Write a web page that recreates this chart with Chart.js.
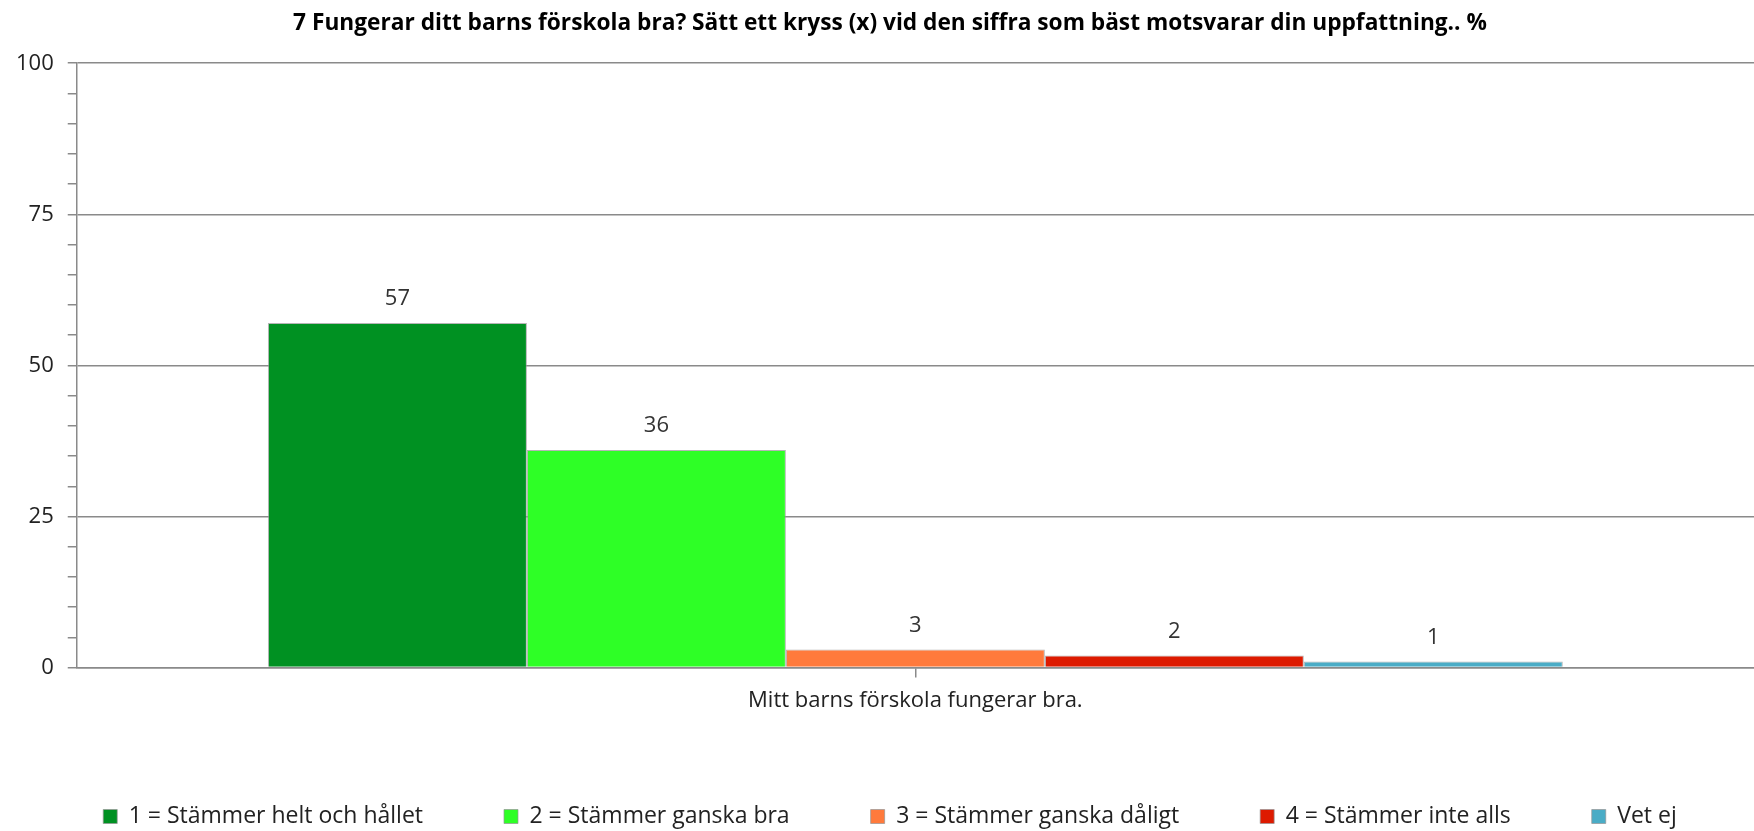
<!DOCTYPE html>
<html>
<head>
<meta charset="utf-8">
<script src="https://cdn.jsdelivr.net/npm/chart.js@4.4.1/dist/chart.umd.min.js"></script>
<style>
  html, body { margin: 0; padding: 0; background: #fff; }
  #wrap { width: 1754px; height: 831px; }
</style>
</head>
<body>
<div id="wrap"><canvas id="chart"></canvas></div>
<script>
var title = '7 Fungerar ditt barns förskola bra? Sätt ett kryss (x) vid den siffra som bäst motsvarar din uppfattning.. %';
var categories = ['Mitt barns förskola fungerar bra.'];
var seriesNames = ['1 = Stämmer helt och hållet', '2 = Stämmer ganska bra', '3 = Stämmer ganska dåligt', '4 = Stämmer inte alls', 'Vet ej'];
var seriesValues = [57, 36, 3, 2, 1];
var seriesColors = ['#009122', '#2eff26', '#ff7a3c', '#dd1a00', '#4aacc6'];

// value labels above each bar
var barLabels = {
  id: 'barLabels',
  afterDatasetsDraw: function(chart) {
    var ctx = chart.ctx;
    ctx.save();
    ctx.font = '22px "Open Sans"';
    ctx.fillStyle = '#333';
    ctx.textAlign = 'center';
    ctx.textBaseline = 'middle';
    chart.data.datasets.forEach(function(ds, i) {
      chart.getDatasetMeta(i).data.forEach(function(bar, j) {
        ctx.fillText(ds.data[j], bar.x, bar.y - 24);
      });
    });
    ctx.restore();
  }
};

var datasets = seriesNames.map(function(name, i) {
  return {
    label: name,
    data: [seriesValues[i]],
    backgroundColor: seriesColors[i],
    borderColor: 'rgba(150,150,150,0.7)',
    borderWidth: 1,
    barPercentage: 1,
    categoryPercentage: 0.772
  };
});

var chart = new Chart(document.getElementById('chart').getContext('2d'), {
  type: 'bar',
  data: { labels: categories, datasets: datasets },
  plugins: [barLabels],
  options: {
    responsive: true,
    maintainAspectRatio: false,
    animation: false,
    layout: { padding: { left: 2, right: -24, top: 0, bottom: -7 } },
    plugins: {
      title: {
        display: true,
        text: title,
        color: '#000',
        font: { family: 'Open Sans', size: 22.7, weight: 'bold' },
        padding: { top: 10, bottom: 26 }
      },
      legend: {
        position: 'bottom',
        labels: {
          color: '#222',
          font: { family: 'Open Sans', size: 23 },
          boxWidth: 14,
          boxHeight: 14,
          padding: 81
        }
      },
      tooltip: { enabled: false }
    },
    scales: {
      x: {
        grid: {
          offset: false,
          drawOnChartArea: false,
          drawTicks: true,
          tickLength: 10,
          tickColor: '#8a8a8a',
          lineWidth: 1.5
        },
        border: { color: '#8a8a8a', width: 1.5 },
        ticks: {
          color: '#222',
          font: { family: 'Open Sans', size: 22 },
          padding: 10
        }
      },
      y: {
        min: 0,
        max: 100,
        grid: {
          color: function(c) { return c.tick && c.tick.value % 25 === 0 ? '#8a8a8a' : 'rgba(0,0,0,0)'; },
          tickColor: '#8a8a8a',
          tickLength: 9,
          lineWidth: 1.5
        },
        border: { color: '#8a8a8a', width: 1.5 },
        ticks: {
          stepSize: 5,
          autoSkip: false,
          color: '#222',
          font: { family: 'Open Sans', size: 22 },
          padding: 14,
          callback: function(v) { return v % 25 === 0 ? v : ''; }
        }
      }
    }
  }
});
</script>
</body>
</html>
